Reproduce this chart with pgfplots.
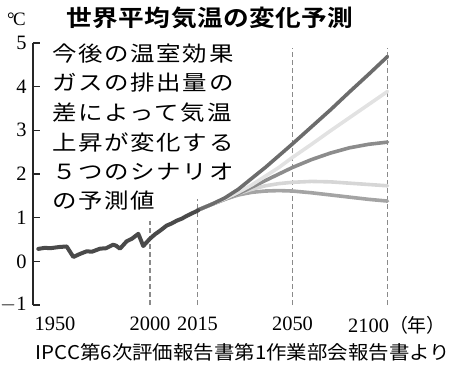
\documentclass[border=0pt]{standalone}
\usepackage{fontspec}
\setmainfont{Liberation Serif}
\usepackage{pgfplots}
\pgfplotsset{compat=1.18}
\newfontfamily\jp{Noto Sans CJK JP}[FakeStretch=1.17, LetterSpace=8]
\newfontfamily\jpt{Noto Sans CJK JP Bold}[FakeStretch=1.12, LetterSpace=2]
\newfontfamily\jps{Noto Sans CJK JP}[FakeStretch=1.08]
\newfontfamily\jpy{Noto Sans CJK JP}
\definecolor{histgray}{HTML}{4A4A4A}
\definecolor{sA}{HTML}{6C6C6C}
\definecolor{sB}{HTML}{E2E2E2}
\definecolor{sC}{HTML}{8C8C8C}
\definecolor{sD}{HTML}{D6D6D6}
\definecolor{sE}{HTML}{A4A4A4}
\definecolor{dashgray}{HTML}{8A8A8A}
\begin{document}
\begin{tikzpicture}
\begin{axis}[
  scale only axis, width=359.25bp, height=262bp,
  xmin=-0.2316, xmax=3.55, ymin=-1, ymax=5,
  axis y line*=left, axis x line*=bottom,
  x axis line style={draw=none},
  y axis line style={line width=1.1bp, color=black!85},
  xtick={0,1,1.5,2.5,3.5},
  xticklabels={1950,2000,2015,2050,{\hspace*{19bp}2100{\jpy\fontsize{19}{22}\selectfont （年）}}},
  xtick style={draw=none},
  ytick={-1,0,1,2,3,4,5},
  yticklabels={$-$1,0,1,2,3,4,5},
  tick align=inside,
  major tick length=7bp,
  ytick style={line width=1.1bp, color=black!85},
  tick label style={font=\fontsize{20.5}{24}\selectfont},
  yticklabel style={xshift=-3bp},
  xticklabel style={yshift=-8bp},
  clip=false,
]
% reference dashed lines
\addplot[dashgray, line width=1.1bp, dash pattern=on 4.5bp off 3.5bp] coordinates {(1,-1) (1,0.92)};
\addplot[dashgray, line width=1.1bp, dash pattern=on 4.5bp off 3.5bp] coordinates {(1.5,-1) (1.5,1.42)};
\addplot[dashgray, line width=1.1bp, dash pattern=on 4.5bp off 3.5bp] coordinates {(2.5,-1) (2.5,4.88)};
\addplot[dashgray, line width=1.1bp, dash pattern=on 4.5bp off 3.5bp] coordinates {(3.5,-1) (3.5,4.88)};
% scenarios (x: 2015=1.5, 2050=2.5, 2100=3.5)
\addplot[sE, line width=3.6bp, line cap=round, line join=round] coordinates {
(1.5,1.17) (1.643,1.30) (1.786,1.42) (1.929,1.52) (2.071,1.58) (2.214,1.61) (2.357,1.62) (2.5,1.61)
(2.7,1.57) (2.9,1.52) (3.1,1.47) (3.3,1.42) (3.5,1.38)};
\addplot[sD, line width=3.6bp, line cap=round, line join=round] coordinates {
(1.5,1.17) (1.643,1.30) (1.786,1.42) (1.929,1.55) (2.071,1.65) (2.214,1.73) (2.357,1.78) (2.5,1.81)
(2.7,1.83) (2.9,1.82) (3.1,1.79) (3.3,1.76) (3.5,1.73)};
\addplot[sC, line width=3.6bp, line cap=round, line join=round] coordinates {
(1.5,1.17) (1.643,1.30) (1.786,1.42) (1.929,1.55) (2.071,1.70) (2.214,1.85) (2.357,2.00) (2.5,2.15)
(2.7,2.33) (2.9,2.48) (3.1,2.60) (3.3,2.68) (3.5,2.73)};
\addplot[sB, line width=3.6bp, line cap=round, line join=round] coordinates {
(1.5,1.17) (1.643,1.30) (1.786,1.43) (1.929,1.58) (2.071,1.75) (2.214,1.95) (2.357,2.15) (2.5,2.38)
(2.7,2.68) (2.9,2.99) (3.1,3.29) (3.3,3.59) (3.5,3.89)};
\addplot[sA, line width=3.6bp, line cap=round, line join=round] coordinates {
(1.5,1.17) (1.643,1.30) (1.786,1.45) (1.929,1.65) (2.071,1.90) (2.214,2.15) (2.357,2.42) (2.5,2.69)
(2.7,3.08) (2.9,3.47) (3.1,3.88) (3.3,4.28) (3.5,4.69)};
% historical
\addplot[histgray, line width=4bp, line cap=round, line join=round] coordinates {
(-0.176,0.285) (-0.105,0.31) (-0.053,0.30) (0.053,0.33) (0.123,0.34) (0.193,0.10) (0.263,0.17)
(0.334,0.23) (0.389,0.22) (0.474,0.29) (0.537,0.30) (0.611,0.38) (0.642,0.36) (0.684,0.29)
(0.755,0.46) (0.811,0.52) (0.877,0.63) (0.929,0.35) (1.0,0.52) (1.053,0.62) (1.105,0.70)
(1.176,0.82) (1.221,0.86) (1.281,0.93) (1.337,0.98) (1.386,1.04) (1.442,1.10) (1.492,1.15) (1.508,1.17)};
\coordinate (sw) at (rel axis cs:0,0);
\end{axis}
% texts (positions relative to plot origin sw)
\node[font=\jpt\fontsize{23}{26}\selectfont, inner sep=0pt] at ([shift={(177bp,287bp)}]sw) {世界平均気温の変化予測};
\node[font=\fontsize{19}{22}\selectfont, inner sep=0pt] at ([shift={(-16.5bp,286bp)}]sw) {\textdegree\kern-0.08em C};
\begin{scope}[every node/.style={font=\jp\fontsize{21}{24}\selectfont, inner sep=0pt, anchor=west}]
\node at ([shift={(19bp,251bp)}]sw) {今後の温室効果};
\node at ([shift={(19bp,222bp)}]sw) {ガスの排出量の};
\node at ([shift={(19bp,192bp)}]sw) {差によって気温};
\node at ([shift={(19bp,162.5bp)}]sw) {上昇が変化する};
\node at ([shift={(19bp,133bp)}]sw) {５つのシナリオ};
\node at ([shift={(19bp,104.5bp)}]sw) {の予測値};
\end{scope}
\node[font=\jps\fontsize{19}{22}\selectfont, inner sep=0pt] at ([shift={(210bp,-47bp)}]sw) {IPCC第6次評価報告書第1作業部会報告書より};
\pgfresetboundingbox
\path[use as bounding box] ([shift={(-33bp,-67bp)}]sw) rectangle ([shift={(417bp,305bp)}]sw);
\end{tikzpicture}
\end{document}
